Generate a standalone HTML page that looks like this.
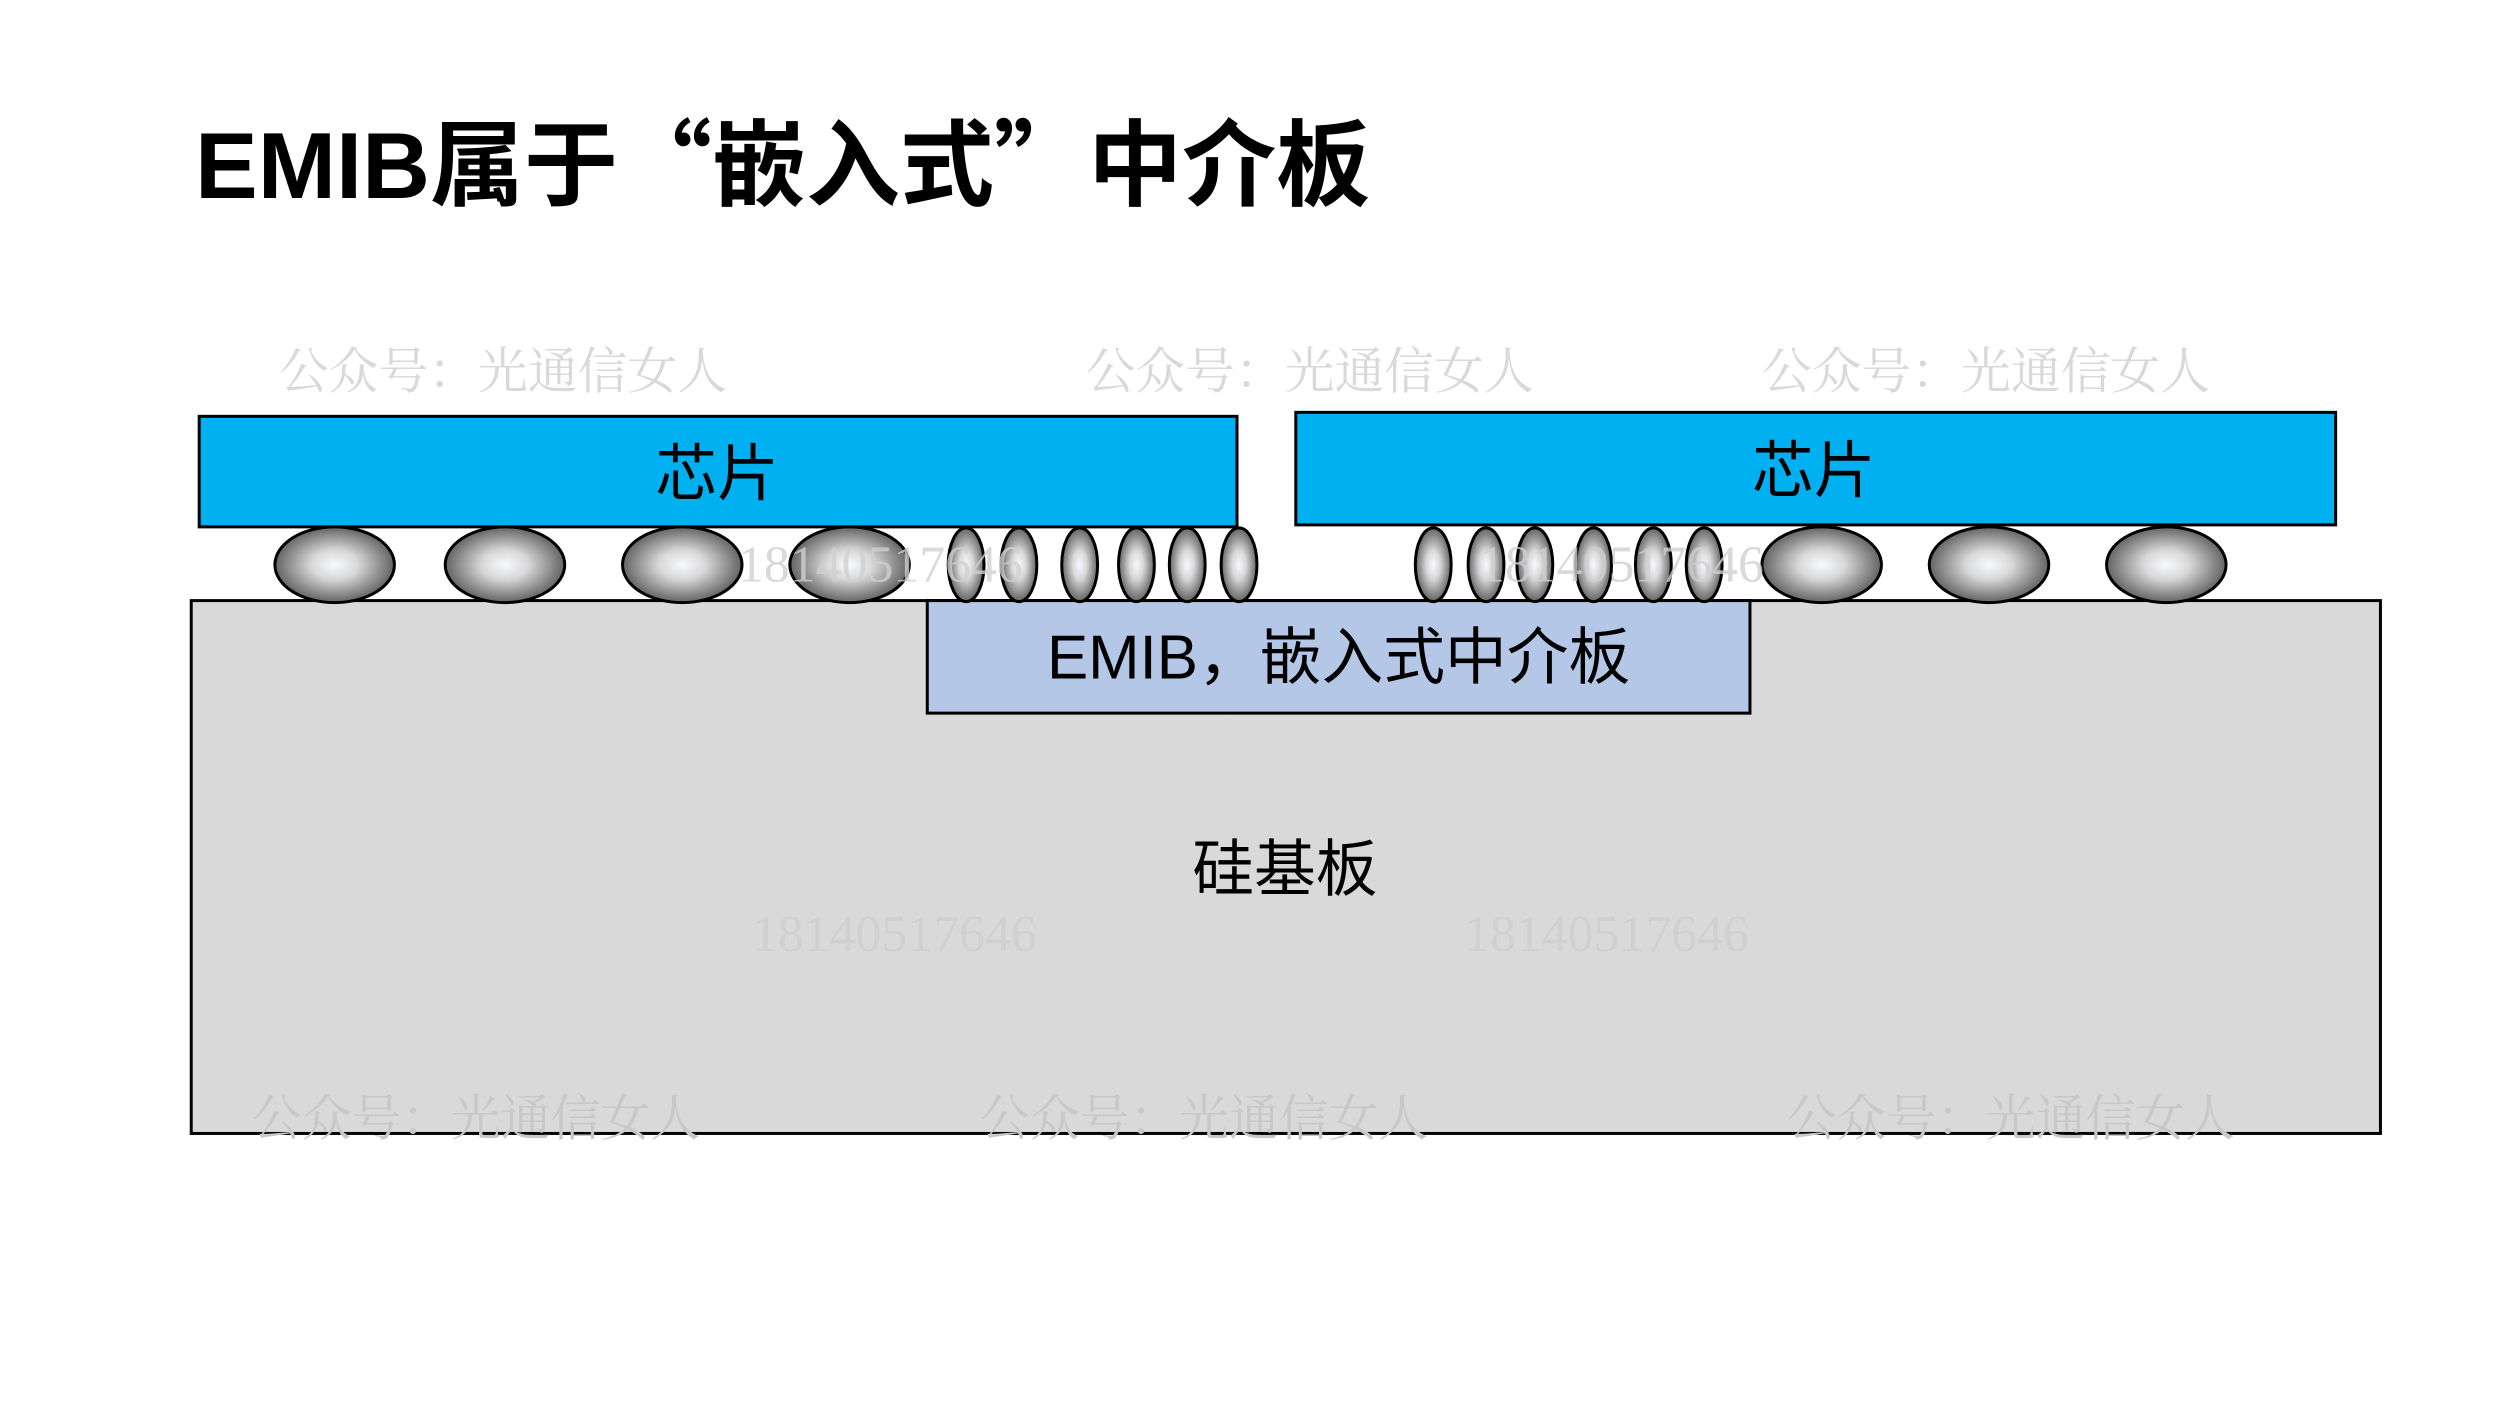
<!DOCTYPE html>
<html><head><meta charset="utf-8"><style>
html,body{margin:0;padding:0;background:#fff;}
svg{display:block;}
.wm{font-family:"Noto Serif CJK SC","Liberation Serif",serif;font-size:50px;fill:#d9d9d9;}
.num{font-family:"Liberation Serif",serif;font-size:52px;fill:#d0d0d0;}
.lbl{font-family:"Liberation Sans","Noto Sans CJK SC",sans-serif;font-size:62px;fill:#000;}
</style></head><body>
<svg width="2500" height="1406" viewBox="0 0 2500 1406" xmlns="http://www.w3.org/2000/svg">
<defs>
<radialGradient id="g" cx="0.5" cy="0.5" r="0.55">
<stop offset="0" stop-color="#f7f9ff"/>
<stop offset="0.35" stop-color="#d8d8d8"/>
<stop offset="1" stop-color="#505050"/>
</radialGradient>
</defs>
<text x="195" y="198" style="font-family:'Liberation Sans','Noto Sans CJK SC',sans-serif;font-weight:bold;font-size:94px;" fill="#000">EMIB属于<tspan style="font-family:'Noto Sans CJK SC',sans-serif">“</tspan>嵌入式<tspan style="font-family:'Noto Sans CJK SC',sans-serif">”</tspan>中介板</text>

<g transform="scale(0.996)">
<text class="wm" x="280" y="390">公众号：光通信女人</text>
<text class="wm" x="1090" y="390">公众号：光通信女人</text>
<text class="wm" x="1769" y="390">公众号：光通信女人</text>

<rect x="192" y="603" width="2198" height="535" fill="#d9d9d9" stroke="#000" stroke-width="3"/>
<rect x="200" y="418" width="1042" height="111" fill="#00b0f0" stroke="#000" stroke-width="3"/>
<rect x="1301" y="414" width="1044" height="113" fill="#00b0f0" stroke="#000" stroke-width="3"/>
<rect x="931" y="603" width="826" height="113" fill="#b4c7e7" stroke="#000" stroke-width="3"/>

<g fill="url(#g)" stroke="#000" stroke-width="3">
<ellipse cx="336" cy="567" rx="60" ry="38"/>
<ellipse cx="507" cy="567" rx="60" ry="38"/>
<ellipse cx="685" cy="567" rx="60" ry="38"/>
<ellipse cx="853" cy="567" rx="60" ry="38"/>
<ellipse cx="1829" cy="567" rx="60" ry="38"/>
<ellipse cx="1997" cy="567" rx="60" ry="38"/>
<ellipse cx="2175" cy="567" rx="60" ry="38"/>
<ellipse cx="970" cy="567" rx="18" ry="37"/>
<ellipse cx="1023" cy="567" rx="18" ry="37"/>
<ellipse cx="1084" cy="567" rx="18" ry="37"/>
<ellipse cx="1141" cy="567" rx="18" ry="37"/>
<ellipse cx="1192" cy="567" rx="18" ry="37"/>
<ellipse cx="1244" cy="567" rx="18" ry="37"/>
<ellipse cx="1439" cy="567" rx="18" ry="37"/>
<ellipse cx="1492" cy="567" rx="18" ry="37"/>
<ellipse cx="1541" cy="567" rx="18" ry="37"/>
<ellipse cx="1600" cy="567" rx="18" ry="37"/>
<ellipse cx="1660" cy="567" rx="18" ry="37"/>
<ellipse cx="1711" cy="567" rx="18" ry="37"/>
</g>

<text class="num" x="741" y="584" fill-opacity="0.8">18140517646</text>
<text class="num" x="1485" y="584" fill-opacity="0.8">18140517646</text>

<text class="lbl" x="720" y="497" text-anchor="middle">芯片</text>
<text class="lbl" x="1821" y="494" text-anchor="middle">芯片</text>
<text class="lbl" x="1344" y="681" text-anchor="middle">EMIB，嵌入式中介板</text>
<text class="lbl" x="1290" y="894" text-anchor="middle">硅基板</text>

<text class="wm" x="280" y="764">公众号：光通信女人</text>
<text class="wm" x="1011" y="764">公众号：光通信女人</text>
<text class="wm" x="1821" y="764">公众号：光通信女人</text>
<text class="num" x="755" y="955">18140517646</text>
<text class="num" x="1470" y="955">18140517646</text>
<text class="wm" x="253" y="1140" style="fill:#c8c8c8">公众号：光通信女人</text>
<text class="wm" x="984" y="1140" style="fill:#c8c8c8">公众号：光通信女人</text>
<text class="wm" x="1794" y="1140" style="fill:#c8c8c8">公众号：光通信女人</text>
</g>
</svg>
</body></html>
